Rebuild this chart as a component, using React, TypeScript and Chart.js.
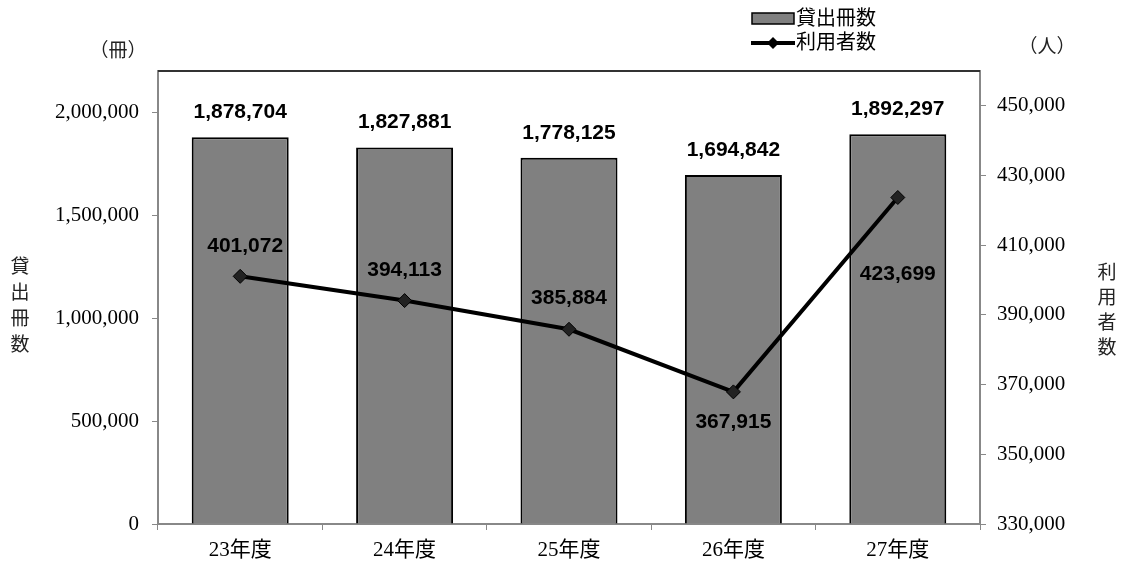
import React, { useEffect, useRef } from "react";
import { Chart, registerables } from "chart.js";

Chart.register(...registerables);

const categories = ["23年度", "24年度", "25年度", "26年度", "27年度"];
const loans = [1878704, 1827881, 1778125, 1694842, 1892297];
const users = [401072, 394113, 385884, 367915, 423699];
const leftTicks = [0, 500000, 1000000, 1500000, 2000000];
const rightTicks = [330000, 350000, 370000, 390000, 410000, 430000, 450000];
const loanLabel = "貸出冊数";
const userLabel = "利用者数";
const leftUnit = "（冊）";
const rightUnit = "（人）";

// label offsets for line point labels (style)
const userLabelDy = [-30, -30, -31, 30, 77];
const userLabelDx = [5, 0, 0, 0, 0];

const fmt = (v: number) => v.toLocaleString("en-US");

const SERIF = "'Liberation Serif', 'Noto Sans CJK JP', serif";
const SANS = "'Liberation Sans', Arial, sans-serif";
const CJK = "'Noto Sans CJK JP', sans-serif";

const decoPlugin = {
  id: "deco",
  afterDatasetsDraw(chart: any) {
    const ctx = chart.ctx;
    const ca = chart.chartArea;
    ctx.save();
    // top border
    ctx.strokeStyle = "#333";
    ctx.lineWidth = 2;
    ctx.beginPath();
    ctx.moveTo(ca.left, ca.top);
    ctx.lineTo(ca.right, ca.top);
    ctx.stroke();

    // right axis tick labels
    const y1 = chart.scales.y1;
    ctx.fillStyle = "#000";
    ctx.font = `21px ${SERIF}`;
    ctx.textAlign = "left";
    ctx.textBaseline = "middle";
    rightTicks.forEach((v) => {
      ctx.fillText(fmt(v), ca.right + 17, y1.getPixelForValue(v));
    });

    // bar labels
    const barMeta = chart.getDatasetMeta(1);
    ctx.font = `bold 21px ${SANS}`;
    ctx.textAlign = "center";
    barMeta.data.forEach((el: any, i: number) => {
      ctx.fillText(fmt(loans[i]), el.x, el.y - 25);
    });
    // line labels
    const lineMeta = chart.getDatasetMeta(0);
    lineMeta.data.forEach((el: any, i: number) => {
      ctx.fillText(fmt(users[i]), el.x + userLabelDx[i], el.y + userLabelDy[i]);
    });

    // unit labels
    ctx.font = `19px ${CJK}`;
    ctx.fillStyle = "#222";
    ctx.fillText(leftUnit, 118, 50);
    ctx.fillText(rightUnit, 1047, 46);

    // vertical titles
    const lc = loanLabel.split("");
    lc.forEach((c, i) => ctx.fillText(c, 20, 266 + i * 26));
    const rc = userLabel.split("");
    rc.forEach((c, i) => ctx.fillText(c, 1107, 272 + i * 25));

    // legend
    ctx.fillStyle = "#808080";
    ctx.fillRect(752, 13, 42, 11);
    ctx.strokeStyle = "#000";
    ctx.lineWidth = 1.5;
    ctx.strokeRect(752, 13, 42, 11);
    ctx.fillStyle = "#000";
    ctx.font = `20px ${CJK}`;
    ctx.textAlign = "left";
    ctx.fillText(loanLabel, 796, 17);
    ctx.lineWidth = 4;
    ctx.beginPath();
    ctx.moveTo(751, 43);
    ctx.lineTo(795, 43);
    ctx.stroke();
    ctx.beginPath();
    ctx.moveTo(773, 37);
    ctx.lineTo(779, 43);
    ctx.lineTo(773, 49);
    ctx.lineTo(767, 43);
    ctx.closePath();
    ctx.fill();
    ctx.fillText(userLabel, 796, 41);
    ctx.restore();
  },
};

export default function App() {
  const ref = useRef<HTMLCanvasElement | null>(null);
  useEffect(() => {
    document.body.style.margin = "0";
    const canvas = ref.current!;
    const chart = new Chart(canvas, {
      type: "bar",
      data: {
        labels: categories,
        datasets: [
          {
            type: "line",
            label: userLabel,
            data: users,
            yAxisID: "y1",
            borderColor: "#000",
            backgroundColor: "#222",
            borderWidth: 4,
            pointStyle: "rectRot",
            pointRadius: 7,
            pointBackgroundColor: "#222",
            pointBorderColor: "#000",
            pointBorderWidth: 1,
            tension: 0,
            order: 0,
          } as any,
          {
            type: "bar",
            label: loanLabel,
            data: loans,
            yAxisID: "y",
            backgroundColor: "#808080",
            borderColor: "#000",
            borderWidth: 2,
            barPercentage: 0.59,
            categoryPercentage: 1,
            order: 1,
          },
        ],
      },
      options: {
        animation: false,
        responsive: false,
        layout: { padding: { top: 71, left: 0, right: 0, bottom: 0 } },
        plugins: { legend: { display: false }, tooltip: { enabled: false } },
        scales: {
          x: {
            offset: true,
            grid: {
              offset: true,
              drawOnChartArea: false,
              drawTicks: true,
              tickLength: 6,
              color: "#888",
            },
            border: { color: "#888", width: 2 },
            ticks: {
              color: "#000",
              font: { family: SERIF, size: 21 },
              padding: 8,
            },
            afterFit(scale: any) {
              scale.height = 43;
            },
          },
          y: {
            position: "left",
            min: 0,
            max: 2200000,
            afterBuildTicks(scale: any) {
              scale.ticks = leftTicks.map((v) => ({ value: v }));
            },
            grid: { drawOnChartArea: false, tickLength: 6, color: "#888" },
            border: { color: "#888", width: 2 },
            ticks: {
              color: "#000",
              font: { family: SERIF, size: 21 },
              padding: 13,
              callback: (v: any) => fmt(Number(v)),
            },
            afterFit(scale: any) {
              scale.width = 158;
            },
          },
          y1: {
            position: "right",
            min: 330000,
            max: 460000,
            afterBuildTicks(scale: any) {
              scale.ticks = rightTicks.map((v) => ({ value: v }));
            },
            grid: { drawOnChartArea: false, tickLength: 6, color: "#888" },
            border: { color: "#888", width: 2 },
            ticks: {
              display: false,
            },
            afterFit(scale: any) {
              scale.width = 145;
            },
          },
        },
      },
      plugins: [decoPlugin],
    });
    return () => chart.destroy();
  }, []);
  return <canvas ref={ref} width={1125} height={567} style={{ display: "block" }} />;
}
